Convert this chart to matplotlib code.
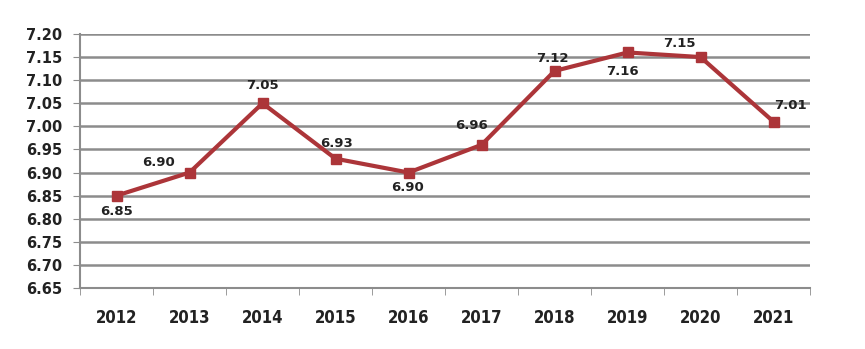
import matplotlib.pyplot as plt

years = ["2012", "2013", "2014", "2015", "2016", "2017", "2018", "2019", "2020", "2021"]
values = [6.85, 6.90, 7.05, 6.93, 6.90, 6.96, 7.12, 7.16, 7.15, 7.01]
# label offsets in points (dx, dy)
offsets = [(0, -11.5), (-22, 7), (0, 13), (0.5, 11), (-1, -11), (-7, 14), (-1.5, 9), (-3.5, -14), (-15, 9.5), (12, 11.5)]

yticks = [6.65 + 0.05 * i for i in range(12)]

fig = plt.figure(figsize=(8.65, 3.49), dpi=100)
ax = fig.add_axes([0.0925, 0.1748, 0.844, 0.7278])

x = list(range(len(years)))
ax.plot(x, values, color="#AC3539", linewidth=3, marker="s", markersize=7, zorder=3)

for xi, v, (dx, dy) in zip(x, values, offsets):
    ax.annotate(f"{v:.2f}", (xi, v), xytext=(dx, dy), textcoords="offset points",
                ha="center", va="center", fontsize=9.5, fontweight="bold", color="#222222")

ax.set_xlim(-0.5, len(years) - 0.5)
ax.set_ylim(6.65, 7.20)
ax.set_yticks(yticks)
ax.set_yticklabels([f"{t:.2f}" for t in yticks], fontsize=10.5, fontweight="bold", color="#222222")
ax.set_xticks(x)
ax.set_xticklabels(years, fontsize=12, fontweight="bold", color="#222222",
                   family="DejaVu Sans", fontstretch="condensed")
ax.set_xticks([i - 0.5 for i in range(len(years) + 1)], minor=True)

ax.grid(axis="y", color="#8c8c8c", linewidth=1.8)
ax.set_axisbelow(True)
for s in ["top", "right"]:
    ax.spines[s].set_visible(False)
ax.spines["left"].set_color("#8c8c8c")
ax.spines["bottom"].set_color("#8c8c8c")
ax.spines["left"].set_linewidth(1.5)
ax.spines["bottom"].set_linewidth(1.5)

ax.tick_params(axis="y", length=5, color="#8c8c8c", pad=8)
ax.tick_params(axis="x", which="major", length=0, pad=15)
ax.tick_params(axis="x", which="minor", length=5, color="#8c8c8c")

fig.savefig("out.png", dpi=100)
